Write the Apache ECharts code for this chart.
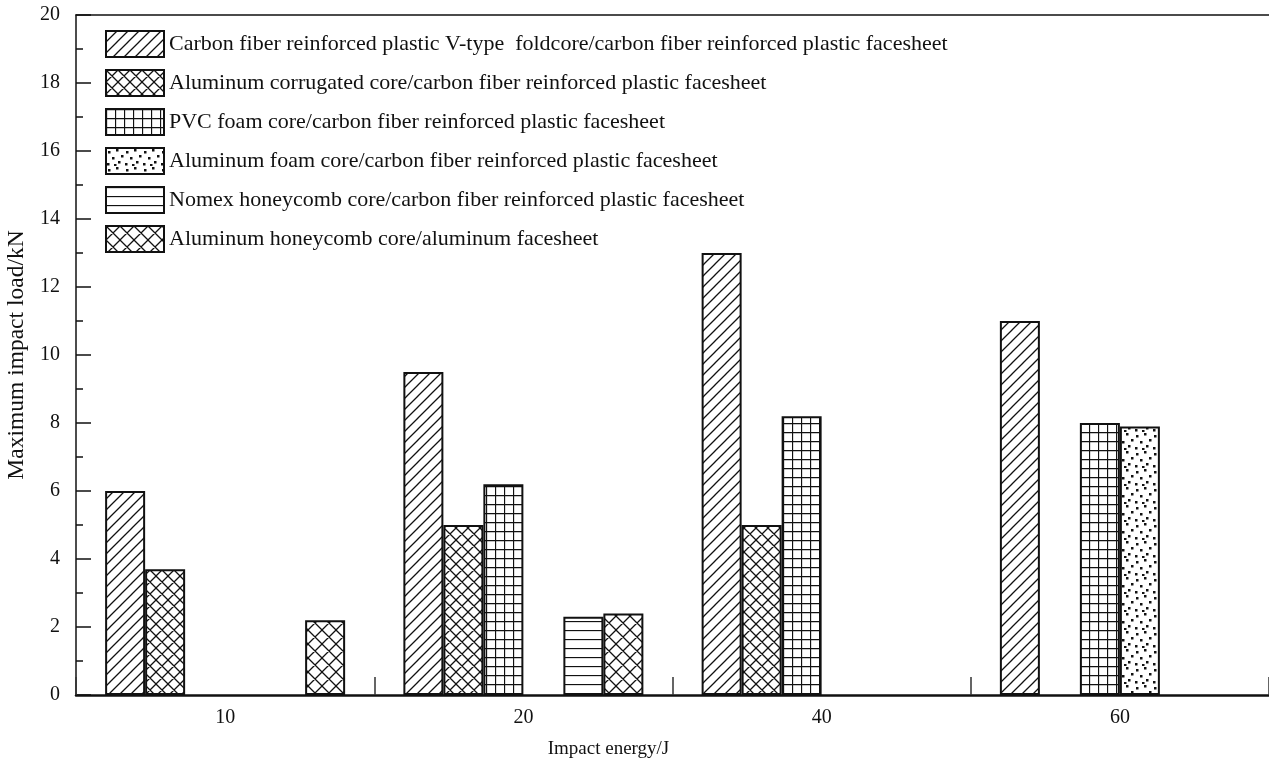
<!DOCTYPE html>
<html>
<head>
<meta charset="utf-8">
<script src="https://cdn.jsdelivr.net/npm/echarts@6/dist/echarts.min.js"></script>
<style>
html,body{margin:0;padding:0;background:#fff;}
#main{width:1269px;height:758px;}
</style>
</head>
<body>
<div id="main"></div>
<script>
// impact energy groups
var categories = ['10', '20', '40', '60'];
var seriesNames = [
	'Carbon fiber reinforced plastic V-type  foldcore/carbon fiber reinforced plastic facesheet',
	'Aluminum corrugated core/carbon fiber reinforced plastic facesheet',
	'PVC foam core/carbon fiber reinforced plastic facesheet',
	'Aluminum foam core/carbon fiber reinforced plastic facesheet',
	'Nomex honeycomb core/carbon fiber reinforced plastic facesheet',
	'Aluminum honeycomb core/aluminum facesheet'
];
// maximum impact load, kN
var cfrpFoldcore = [6.0, 9.5, 13.0, 11.0];
var alCorrugated = [3.7, 5.0, 5.0, null];
var pvcFoam = [null, 6.2, 8.2, 8.0];
var alFoam = [null, null, null, 7.9];
var nomexHoneycomb = [null, 2.3, null, null];
var alHoneycomb = [2.2, 2.4, null, null];
var yMin = 0, yMax = 20, yStep = 2;

var serif = '"Liberation Serif", "Times New Roman", serif';

// hatch fills
function makePattern(type){
	var c = document.createElement('canvas');
	var s = 10;
	if(type == 'diag') s = 11;
	if(type == 'cross') s = 12;
	if(type == 'cross2') s = 14;
	if(type == 'grid') s = 9;
	if(type == 'hline') s = 9;
	if(type == 'dots') s = 18;
	c.width = s; c.height = s;
	var g = c.getContext('2d');
	g.fillStyle = '#fff';
	g.fillRect(0, 0, s, s);
	g.strokeStyle = '#111';
	g.fillStyle = '#111';
	g.lineWidth = 1.3;
	g.beginPath();
	if(type == 'diag' || type == 'cross' || type == 'cross2'){
		g.moveTo(-1, s + 1); g.lineTo(s + 1, -1);
		g.moveTo(-1, 1); g.lineTo(1, -1);
		g.moveTo(s - 1, s + 1); g.lineTo(s + 1, s - 1);
	}
	if(type == 'cross' || type == 'cross2'){
		g.moveTo(-1, -1); g.lineTo(s + 1, s + 1);
		g.moveTo(s - 1, -1); g.lineTo(s + 1, 1);
		g.moveTo(-1, s - 1); g.lineTo(1, s + 1);
	}
	if(type == 'grid'){
		g.moveTo(0, 0.5); g.lineTo(s, 0.5);
		g.moveTo(0.5, 0); g.lineTo(0.5, s);
	}
	if(type == 'hline'){
		g.moveTo(0, 0.5); g.lineTo(s, 0.5);
	}
	g.stroke();
	if(type == 'dots'){
		var pts = [[2, 3], [10, 1], [15, 7], [6, 9], [12, 13], [1, 15], [8, 16]];
		for(var i = 0; i < pts.length; i++){
			g.fillRect(pts[i][0], pts[i][1], 2.5, 2.5);
		}
	}
	return {image: c, repeat: 'repeat'};
}

var patterns = ['diag', 'cross', 'grid', 'dots', 'hline', 'cross2'];
var seriesData = [cfrpFoldcore, alCorrugated, pvcFoam, alFoam, nomexHoneycomb, alHoneycomb];

var series = [];
for(var i = 0; i < seriesNames.length; i++){
	series.push({
		name: seriesNames[i],
		type: 'bar',
		barWidth: 40,
		barGap: '0%',
		data: seriesData[i],
		itemStyle: {
			color: makePattern(patterns[i]),
			borderColor: '#111',
			borderWidth: 2
		}
	});
}

var myChart = echarts.init(document.getElementById('main'), null, {renderer: 'canvas'});
var option = {
	backgroundColor: '#fff',
	animation: false,
	textStyle: {fontFamily: serif, color: '#111'},
	legend: {
		orient: 'vertical',
		left: 105,
		top: 30,
		padding: 0,
		icon: 'rect',
		itemWidth: 58,
		itemHeight: 26,
		itemGap: 11,
		itemStyle: {borderColor: '#111', borderWidth: 2},
		textStyle: {fontFamily: serif, fontSize: 22, lineHeight: 26, color: '#111'},
		data: seriesNames
	},
	grid: {
		left: 76,
		right: 0,
		top: 15,
		bottom: 63,
		containLabel: false,
		outerBoundsMode: 'none'
	},
	xAxis: [
		{
			type: 'category',
			data: categories,
			boundaryGap: true,
			name: 'Impact energy/J',
			nameLocation: 'middle',
			nameGap: 45,
			nameTextStyle: {fontFamily: serif, fontSize: 19, color: '#111', padding: [0, 128, 0, 0]},
			axisLine: {lineStyle: {color: '#111', width: 2.5}},
			axisTick: {show: true, inside: true, length: 18, interval: 0, lineStyle: {color: '#333', width: 1.5}},
			axisLabel: {fontFamily: serif, fontSize: 20, color: '#111', margin: 13},
			splitLine: {show: false}
		},
		{
			type: 'category',
			data: categories,
			position: 'top',
			axisLine: {lineStyle: {color: '#111', width: 1.5}},
			axisTick: {show: false},
			axisLabel: {show: false},
			splitLine: {show: false}
		}
	],
	yAxis: {
		type: 'value',
		min: yMin,
		max: yMax,
		interval: yStep,
		name: 'Maximum impact load/kN',
		nameLocation: 'middle',
		nameGap: 44,
		nameTextStyle: {fontFamily: serif, fontSize: 23.5, color: '#111'},
		axisLine: {show: true, lineStyle: {color: '#111', width: 1.5}},
		axisTick: {show: true, inside: true, length: 15, lineStyle: {color: '#111', width: 1.5}},
		minorTick: {show: true, splitNumber: 2, length: 7, lineStyle: {color: '#111', width: 1.5}},
		axisLabel: {fontFamily: serif, fontSize: 20, color: '#111', margin: 16},
		splitLine: {show: false}
	},
	series: series
};
myChart.setOption(option);
</script>
</body>
</html>
